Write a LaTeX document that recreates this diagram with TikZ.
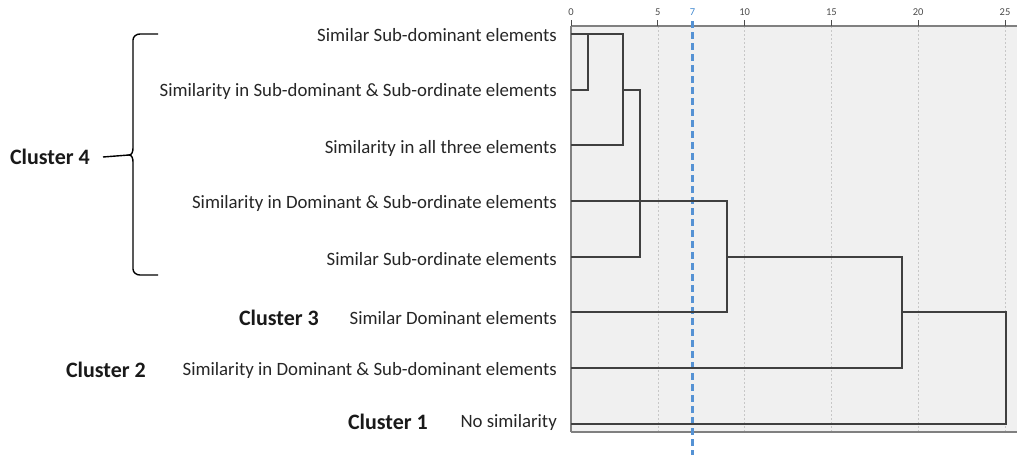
\documentclass[tikz,border=0pt]{standalone}
\usepackage{fontspec}
\setmainfont{Carlito}
\begin{document}
\begin{tikzpicture}[x=1pt,y=-1pt,
  leaf/.style={anchor=east,inner sep=0pt,font=\fontsize{18.8}{22}\selectfont,text=black!85},
  clab/.style={anchor=east,inner sep=0pt,font=\fontsize{22}{24}\selectfont\bfseries,text=black!90},
  tick/.style={inner sep=0pt,font=\fontsize{10.5}{12}\selectfont,text=black!70},
  dend/.style={draw=black!75,line width=1.2pt},
  grid/.style={draw=black!22,dash pattern=on 2pt off 2pt,line width=0.6pt},
  axisline/.style={draw=black!50,line width=1.3pt},
  cut/.style={draw=cyan!55!blue!70,dash pattern=on 7pt off 4pt,line width=2.2pt}]
\useasboundingbox (0,0) rectangle (1017,458);
% plot area
\fill[black!6] (571,26) rectangle (1017,432);
\foreach \v in {5,10,15,20,25}{
  \draw[grid] ({571+17.36*\v},26) -- ({571+17.36*\v},432);
}
% axis
\draw[axisline] (571,26) -- (1017,26);
\draw[axisline] (571,432) -- (1017,432);
\draw[axisline] (571,26) -- (571,432);
\foreach \v in {0,5,10,15,20,25}{
  \draw[black!70,line width=1pt] ({571+17.36*\v},20) -- ({571+17.36*\v},26);
  \node[tick] (t\v) at ({571+17.36*\v},12) {\v};
}
\node[tick,text=cyan!55!blue!80] (t7) at (692.5,12) {7};
\coordinate (cuttop) at (692.5,21);
\coordinate (cutbot) at (692.5,455);
\draw[cut] (cuttop) -- (cutbot);
% leaves
\foreach \i/\y in {1/34,2/90,3/145,4/201,5/257,6/312,7/368,8/424}{
  \coordinate (p\i) at (571,\y);
}
\node[leaf] (l1) at (557,35) {Similar Sub-dominant elements};
\node[leaf] (l2) at (557,91) {Similarity in Sub-dominant \& Sub-ordinate elements};
\node[leaf] (l3) at (557,148) {Similarity in all three elements};
\node[leaf] (l4) at (557,203) {Similarity in Dominant \& Sub-ordinate elements};
\node[leaf] (l5) at (557,259) {Similar Sub-ordinate elements};
\node[leaf] (l6) at (557,318) {Similar Dominant elements};
\node[leaf] (l7) at (557,370) {Similarity in Dominant \& Sub-dominant elements};
\node[leaf] (l8) at (557,422) {No similarity};
% cluster labels
\node[clab] (c4) at (90,157) {Cluster 4};
\node[clab] (c3) at (319,318) {Cluster 3};
\node[clab] (c2) at (146,370) {Cluster 2};
\node[clab] (c1) at (428,422) {Cluster 1};
% brace
\coordinate (btop) at (158,34);
\coordinate (bbot) at (158,275);
\coordinate (btip) at (129,155);
\draw[black,line width=1.4pt] (btop) -- (140,34) to[out=180,in=90] (133,40) -- (133,148)
  to[out=-90,in=0] (btip) to[out=0,in=90] (133,162) -- (133,269) to[out=-90,in=180] (140,275) -- (bbot);
\draw[black,line width=1.4pt] (c4.east) ++(13,0) coordinate (bstart) (bstart) -- (btip);
% dendrogram
\draw[dend] (p1) -- (623,34) -- (623,145) -- (p3);
\draw[dend] (588,34) -- (588,90) -- (p2);
\draw[dend] (623,90) -- (640,90) -- (640,257) -- (p5);
\draw[dend] (p4) -- (727,201) -- (727,312) -- (p6);
\draw[dend] (727,257) -- (902,257) -- (902,368) -- (p7);
\draw[dend] (902,312) -- (1006,312) -- (1006,424) -- (p8);
\end{tikzpicture}
\end{document}
